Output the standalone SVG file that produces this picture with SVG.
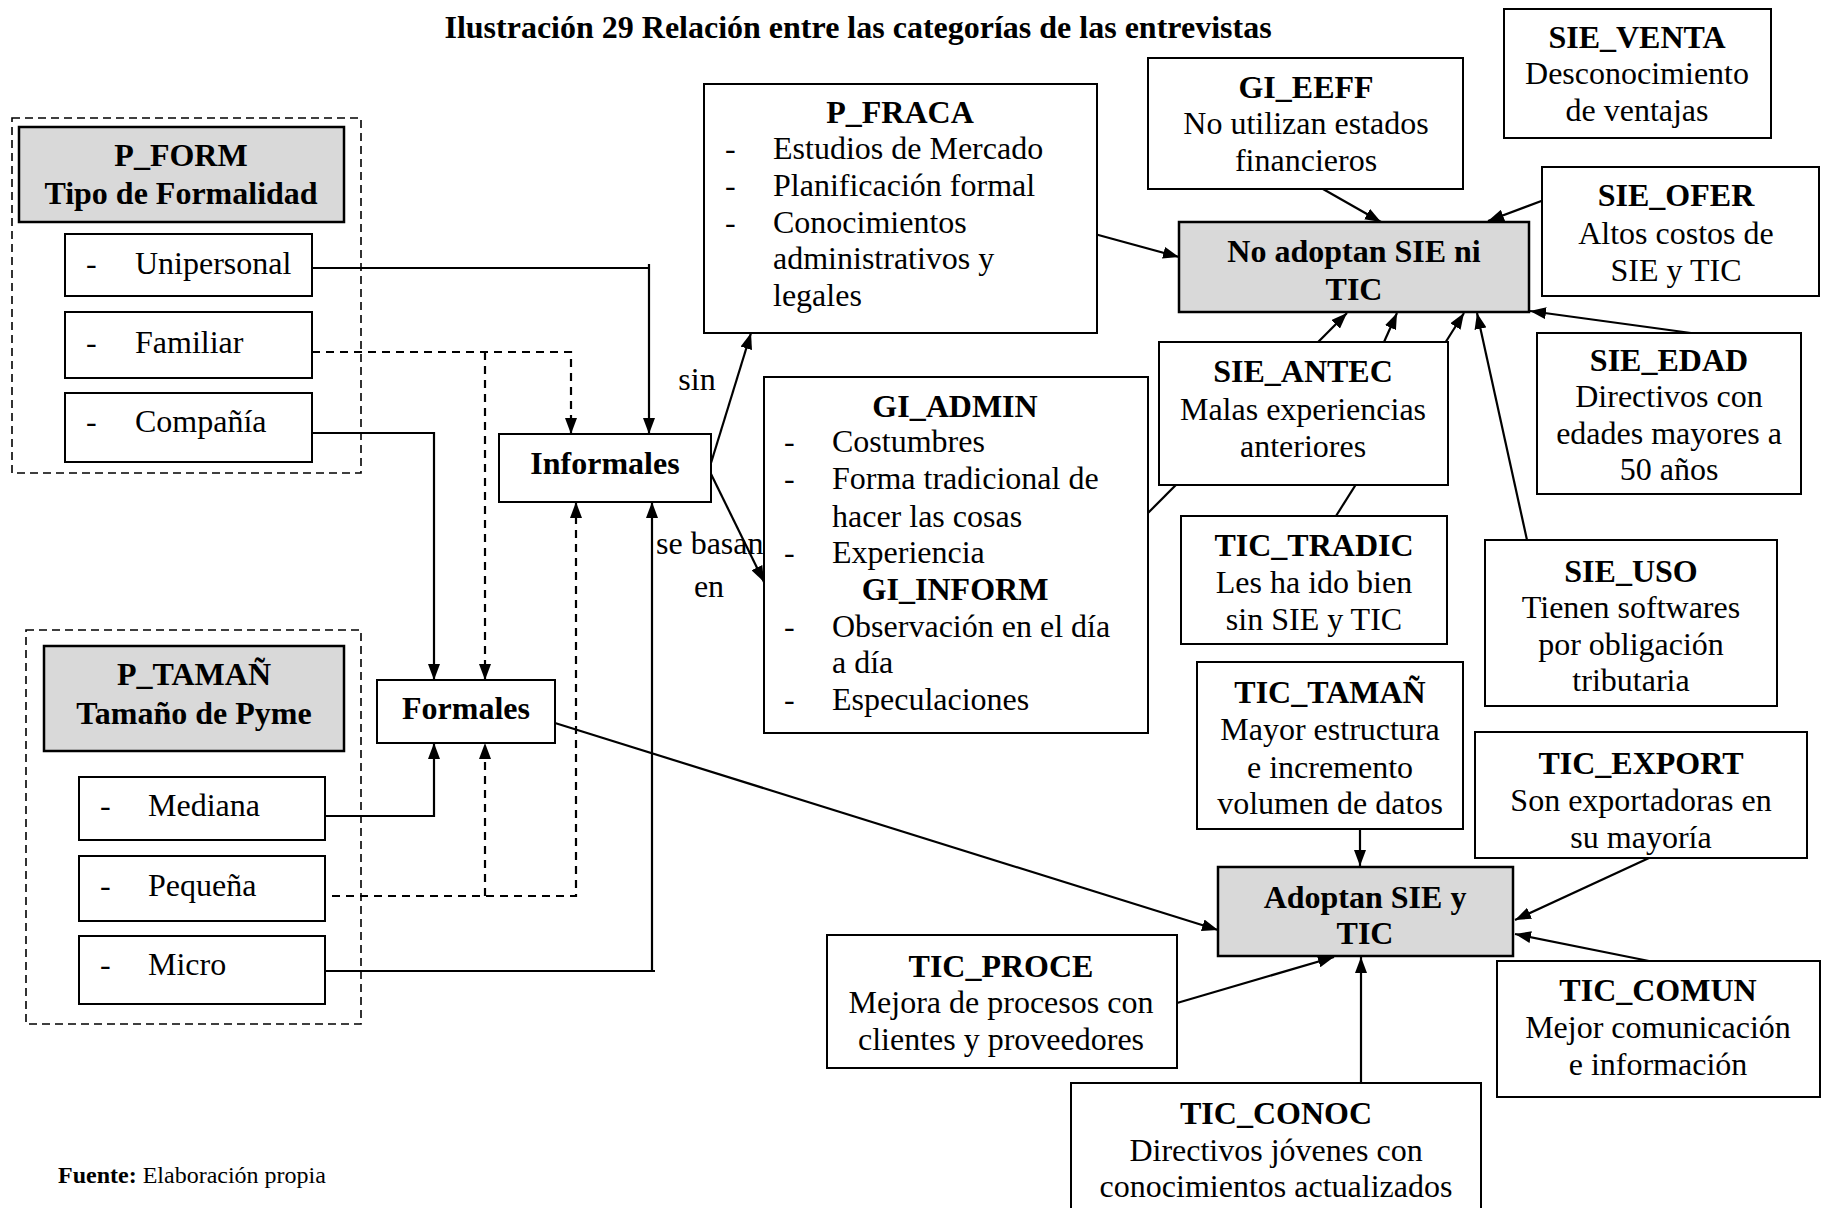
<svg xmlns="http://www.w3.org/2000/svg" width="1828" height="1208" viewBox="0 0 1828 1208">
  <style>
    text { font-family: "Liberation Serif", "Times New Roman", serif; font-size: 32px; fill: #000; }
    .b { font-weight: bold; }
    .c { text-anchor: middle; }
    .box { fill: #fff; stroke: #000; stroke-width: 2; }
    .grey { fill: #d9d9d9; stroke: #000; stroke-width: 2.5; }
    .group { fill: none; stroke: #000; stroke-width: 1.6; stroke-dasharray: 8 5; }
    .conn { fill: none; stroke: #000; stroke-width: 2.2; }
    .dashed { stroke-dasharray: 8 6; }
    .title { font-size: 32px; font-weight: bold; }
    .src { font-size: 24px; }
  </style>
  <defs>
    <marker id="ah" viewBox="0 0 16 12" refX="16" refY="6" markerWidth="16" markerHeight="12" markerUnits="userSpaceOnUse" orient="auto">
      <path d="M0,0 L16,6 L0,12 z" fill="#000"/>
    </marker>
  </defs>
  <rect width="1828" height="1208" fill="#fff"/>

  <text class="title c" x="858" y="38">Ilustración 29 Relación entre las categorías de las entrevistas</text>

  <!-- connectors -->
  <g id="connectors" class="conn">
    <path class="conn" d="M312,268 H649 M649,264 V434" marker-end="url(#ah)"/>
    <path class="conn dashed" d="M312,352 H571 V434" marker-end="url(#ah)"/>
    <path class="conn dashed" d="M485,352 V680" marker-end="url(#ah)"/>
    <path class="conn" d="M312,433 H434 V680" marker-end="url(#ah)"/>
    <path class="conn" d="M326,816 H434 V743" marker-end="url(#ah)"/>
    <path class="conn dashed" d="M332,896 H576 V502" marker-end="url(#ah)"/>
    <path class="conn dashed" d="M485,896 V743" marker-end="url(#ah)"/>
    <path class="conn" d="M326,971 H655 M652,971 V502" marker-end="url(#ah)"/>
    <path class="conn" d="M555,723 L1218,930" marker-end="url(#ah)"/>
    <path class="conn" d="M711,463 L751,333" marker-end="url(#ah)"/>
    <path class="conn" d="M711,474 L764,582" marker-end="url(#ah)"/>
    <path class="conn" d="M1091,233 L1179,257" marker-end="url(#ah)"/>
    <path class="conn" d="M1323,189 L1381,222" marker-end="url(#ah)"/>
    <path class="conn" d="M1544,200 L1488,221" marker-end="url(#ah)"/>
    <path class="conn" d="M1691,333 L1530,311" marker-end="url(#ah)"/>
    <path class="conn" d="M1148,513 L1347,313" marker-end="url(#ah)"/>
    <path class="conn" d="M1384,342 L1397,313" marker-end="url(#ah)"/>
    <path class="conn" d="M1336,516 L1464,313" marker-end="url(#ah)"/>
    <path class="conn" d="M1527,540 L1477,313" marker-end="url(#ah)"/>
    <path class="conn" d="M1360,829 V866" marker-end="url(#ah)"/>
    <path class="conn" d="M1649,858 L1515,920" marker-end="url(#ah)"/>
    <path class="conn" d="M1649,961 L1515,934" marker-end="url(#ah)"/>
    <path class="conn" d="M1177,1003 L1334,957" marker-end="url(#ah)"/>
    <path class="conn" d="M1361,1083 V957" marker-end="url(#ah)"/>
  </g>

  <!-- edge labels -->
  <text x="697" y="390" class="c">sin</text>
  <text x="656" y="554">se basan</text>
  <text x="709" y="597" class="c">en</text>

  <!-- company formality -->
  <g id="p_form">
    <rect class="group" x="12" y="118" width="349" height="355"/>
    <rect class="grey" x="19" y="127" width="325" height="95"/>
    <text class="b c" x="181" y="166">P_FORM</text>
    <text class="b c" x="181" y="204">Tipo de Formalidad</text>
  </g>
  <g id="unipersonal">
    <rect class="box" x="65" y="234" width="247" height="62"/>
    <text x="86" y="274">-</text><text x="135" y="274">Unipersonal</text>
  </g>
  <g id="familiar">
    <rect class="box" x="65" y="312" width="247" height="66"/>
    <text x="86" y="353">-</text><text x="135" y="353">Familiar</text>
  </g>
  <g id="compania">
    <rect class="box" x="65" y="393" width="247" height="69"/>
    <text x="86" y="432">-</text><text x="135" y="432">Compañía</text>
  </g>

  <!-- company size -->
  <g id="p_taman">
    <rect class="group" x="26" y="630" width="335" height="394"/>
    <rect class="grey" x="44" y="646" width="300" height="105"/>
    <text class="b c" x="194" y="685">P_TAMAÑ</text>
    <text class="b c" x="194" y="724">Tamaño de Pyme</text>
  </g>
  <g id="mediana">
    <rect class="box" x="79" y="777" width="246" height="63"/>
    <text x="100" y="816">-</text><text x="148" y="816">Mediana</text>
  </g>
  <g id="pequena">
    <rect class="box" x="79" y="856" width="246" height="65"/>
    <text x="100" y="896">-</text><text x="148" y="896">Pequeña</text>
  </g>
  <g id="micro">
    <rect class="box" x="79" y="936" width="246" height="68"/>
    <text x="100" y="975">-</text><text x="148" y="975">Micro</text>
  </g>

  <g id="informales">
    <rect class="box" x="499" y="434" width="212" height="68"/>
    <text class="b c" x="605" y="474">Informales</text>
  </g>
  <g id="formales">
    <rect class="box" x="377" y="680" width="178" height="63"/>
    <text class="b c" x="466" y="719">Formales</text>
  </g>

  <g id="p_fraca">
    <rect class="box" x="704" y="84" width="393" height="249"/>
    <text class="b c" x="900" y="123">P_FRACA</text>
    <text x="725" y="159">-</text><text x="773" y="159">Estudios de Mercado</text>
    <text x="725" y="196">-</text><text x="773" y="196">Planificación formal</text>
    <text x="725" y="233">-</text><text x="773" y="233">Conocimientos</text>
    <text x="773" y="269">administrativos y</text>
    <text x="773" y="306">legales</text>
  </g>

  <g id="gi_admin">
    <rect class="box" x="764" y="377" width="384" height="356"/>
    <text class="b c" x="955" y="417">GI_ADMIN</text>
    <text x="784" y="452">-</text><text x="832" y="452">Costumbres</text>
    <text x="784" y="489">-</text><text x="832" y="489">Forma tradicional de</text>
    <text x="832" y="527">hacer las cosas</text>
    <text x="784" y="563">-</text><text x="832" y="563">Experiencia</text>
    <text class="b c" x="955" y="600">GI_INFORM</text>
    <text x="784" y="637">-</text><text x="832" y="637">Observación en el día</text>
    <text x="832" y="673">a día</text>
    <text x="784" y="710">-</text><text x="832" y="710">Especulaciones</text>
  </g>

  <g id="gi_eeff">
    <rect class="box" x="1148" y="58" width="315" height="131"/>
    <text class="b c" x="1306" y="98">GI_EEFF</text>
    <text class="c" x="1306" y="134">No utilizan estados</text>
    <text class="c" x="1306" y="171">financieros</text>
  </g>

  <g id="sie_venta">
    <rect class="box" x="1504" y="9" width="267" height="129"/>
    <text class="b c" x="1637" y="48">SIE_VENTA</text>
    <text class="c" x="1637" y="84">Desconocimiento</text>
    <text class="c" x="1637" y="121">de ventajas</text>
  </g>

  <g id="no_adoptan">
    <rect class="grey" x="1179" y="222" width="350" height="90"/>
    <text class="b c" x="1354" y="262">No adoptan SIE ni</text>
    <text class="b c" x="1354" y="300">TIC</text>
  </g>

  <g id="sie_ofer">
    <rect class="box" x="1542" y="167" width="277" height="129"/>
    <text class="b c" x="1676" y="206">SIE_OFER</text>
    <text class="c" x="1676" y="244">Altos costos de</text>
    <text class="c" x="1676" y="281">SIE y TIC</text>
  </g>

  <g id="sie_edad">
    <rect class="box" x="1537" y="333" width="264" height="161"/>
    <text class="b c" x="1669" y="371">SIE_EDAD</text>
    <text class="c" x="1669" y="407">Directivos con</text>
    <text class="c" x="1669" y="444">edades mayores a</text>
    <text class="c" x="1669" y="480">50 años</text>
  </g>

  <g id="sie_antec">
    <rect class="box" x="1159" y="342" width="289" height="143"/>
    <text class="b c" x="1303" y="382">SIE_ANTEC</text>
    <text class="c" x="1303" y="420">Malas experiencias</text>
    <text class="c" x="1303" y="457">anteriores</text>
  </g>

  <g id="tic_tradic">
    <rect class="box" x="1181" y="516" width="266" height="128"/>
    <text class="b c" x="1314" y="556">TIC_TRADIC</text>
    <text class="c" x="1314" y="593">Les ha ido bien</text>
    <text class="c" x="1314" y="630">sin SIE y TIC</text>
  </g>

  <g id="sie_uso">
    <rect class="box" x="1485" y="540" width="292" height="166"/>
    <text class="b c" x="1631" y="582">SIE_USO</text>
    <text class="c" x="1631" y="618">Tienen softwares</text>
    <text class="c" x="1631" y="655">por obligación</text>
    <text class="c" x="1631" y="691">tributaria</text>
  </g>

  <g id="tic_taman">
    <rect class="box" x="1197" y="662" width="266" height="167"/>
    <text class="b c" x="1330" y="703">TIC_TAMAÑ</text>
    <text class="c" x="1330" y="740">Mayor estructura</text>
    <text class="c" x="1330" y="778">e incremento</text>
    <text class="c" x="1330" y="814">volumen de datos</text>
  </g>

  <g id="tic_export">
    <rect class="box" x="1475" y="732" width="332" height="126"/>
    <text class="b c" x="1641" y="774">TIC_EXPORT</text>
    <text class="c" x="1641" y="811">Son exportadoras en</text>
    <text class="c" x="1641" y="848">su mayoría</text>
  </g>

  <g id="adoptan">
    <rect class="grey" x="1218" y="867" width="295" height="89"/>
    <text class="b c" x="1365" y="908">Adoptan SIE y</text>
    <text class="b c" x="1365" y="944">TIC</text>
  </g>

  <g id="tic_proce">
    <rect class="box" x="827" y="935" width="350" height="133"/>
    <text class="b c" x="1001" y="977">TIC_PROCE</text>
    <text class="c" x="1001" y="1013">Mejora de procesos con</text>
    <text class="c" x="1001" y="1050">clientes y proveedores</text>
  </g>

  <g id="tic_comun">
    <rect class="box" x="1497" y="961" width="323" height="136"/>
    <text class="b c" x="1658" y="1001">TIC_COMUN</text>
    <text class="c" x="1658" y="1038">Mejor comunicación</text>
    <text class="c" x="1658" y="1075">e información</text>
  </g>

  <g id="tic_conoc">
    <rect class="box" x="1071" y="1083" width="410" height="135"/>
    <text class="b c" x="1276" y="1124">TIC_CONOC</text>
    <text class="c" x="1276" y="1161">Directivos jóvenes con</text>
    <text class="c" x="1276" y="1197">conocimientos actualizados</text>
  </g>

  <text class="src" x="58" y="1183"><tspan font-weight="bold">Fuente:</tspan> Elaboración propia</text>
</svg>
